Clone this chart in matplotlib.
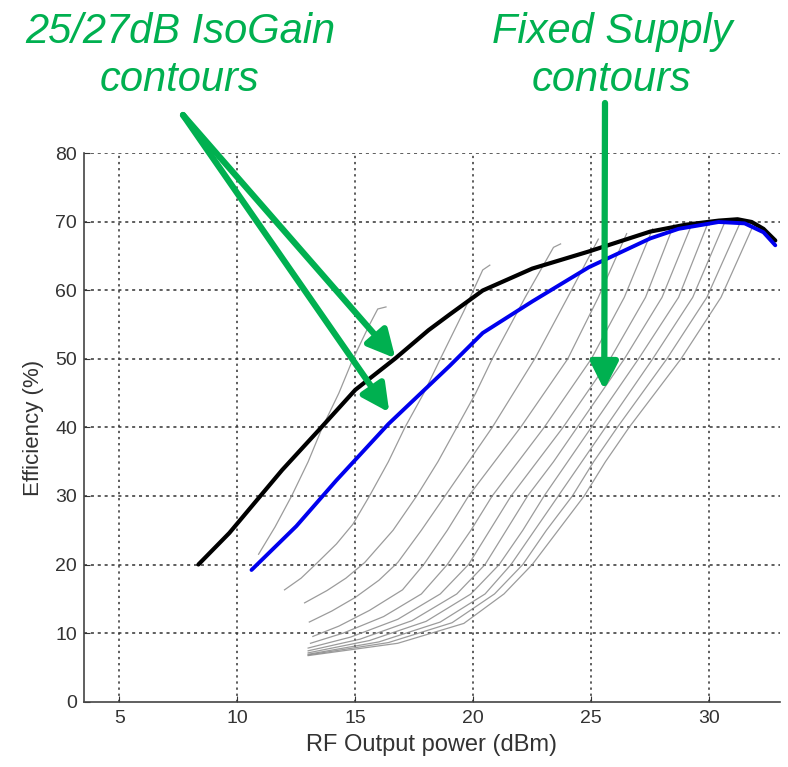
import matplotlib
matplotlib.use('Agg')
import matplotlib.pyplot as plt

plt.rcParams['font.family'] = ['Liberation Sans', 'DejaVu Sans']

# --- data ---
black_x = [8.35, 9.66, 11.9, 13.5, 15.0, 16.7, 18.1, 19.0, 20.4, 22.5, 24.9, 27.5, 29.0, 30.4, 31.2, 31.8, 32.3, 32.8]
black_y = [20.0, 24.6, 33.8, 39.8, 45.5, 50.1, 54.2, 56.5, 60.0, 63.2, 65.7, 68.6, 69.6, 70.2, 70.4, 70.0, 69.0, 67.3]

blue_x = [10.6, 12.5, 14.2, 16.4, 19.0, 20.4, 22.5, 24.9, 27.5, 28.7, 30.4, 31.5, 32.3, 32.8]
blue_y = [19.2, 25.6, 32.3, 40.5, 49.0, 53.8, 58.4, 63.4, 67.6, 69.0, 70.0, 69.8, 68.5, 66.6]

# fixed supply contours (x list, y list), low supply -> high supply
supply_a = ([10.9, 11.6, 12.3, 13.0, 13.6, 14.3, 14.9, 15.6, 15.95, 16.3],
            [21.5, 25.5, 30, 35, 40, 45, 50, 55, 57.3, 57.6])
supply_b = ([12.0, 12.7, 13.4, 14.2, 14.9, 15.6, 16.4, 17.1, 17.9, 18.6, 19.6, 20.4, 20.7],
            [16.3, 18.0, 20.3, 23.0, 25.9, 30, 35, 40, 45, 50, 57, 63.0, 63.7])
supply_c = ([12.85, 13.8, 14.6, 15.4, 16.6, 17.6, 18.5, 19.3, 20.1, 20.8, 22.2, 23.4, 23.7],
            [14.4, 16.2, 18.0, 20.3, 25, 30, 35, 40, 45, 50, 59, 66.3, 66.8])
supply_d = ([13.05, 14.0, 15.0, 16.0, 16.8, 17.8, 18.8, 19.8, 20.8, 22.6, 24.0, 25.3],
            [11.6, 13.2, 15.2, 17.7, 20.3, 25, 30, 35, 40, 50, 59, 67.5])
supply_e = ([13.2, 14.3, 15.6, 17.0, 17.9, 18.9, 19.8, 20.9, 22.0, 24.0, 25.3, 26.5],
            [9.5, 11.0, 13.3, 16.3, 20, 25, 30, 35, 40, 50, 59, 68.3])
supply_f = ([13.1, 14.5, 16.2, 17.8, 18.9, 19.9, 20.8, 21.9, 23.0, 25.0, 26.4, 27.6],
            [8.5, 10.0, 12.4, 15.7, 20, 25, 30, 35, 40, 50, 59, 69.0])
supply_g = ([13.0, 14.8, 16.8, 18.6, 19.8, 20.7, 21.6, 22.7, 23.8, 25.8, 27.3, 28.5],
            [7.8, 9.4, 12.0, 15.7, 20, 25, 30, 35, 40, 50, 59, 69.6])
supply_h = ([13.0, 15.2, 17.4, 19.3, 20.5, 21.4, 22.3, 23.4, 24.4, 26.4, 28.0, 29.3],
            [7.4, 9.1, 11.8, 15.7, 20, 25, 30, 35, 40, 50, 59, 70.0])
supply_i = ([13.0, 15.6, 18.0, 19.9, 21.1, 22.1, 23.0, 24.0, 25.0, 27.0, 28.7, 30.0],
            [7.1, 8.9, 11.7, 15.7, 20, 25, 30, 35, 40, 50, 59, 70.3])
supply_j = ([13.0, 16.0, 18.6, 20.5, 21.6, 22.6, 23.6, 24.6, 25.6, 27.6, 29.3, 30.7],
            [6.9, 8.7, 11.6, 15.7, 20, 25, 30, 35, 40, 50, 59, 70.3])
supply_k = ([13.0, 16.4, 19.1, 20.9, 22.1, 23.1, 24.2, 25.1, 26.1, 28.2, 29.9, 31.3],
            [6.8, 8.6, 11.5, 15.7, 20, 25, 30, 35, 40, 50, 59, 69.8])
supply_l = ([13.0, 16.8, 19.6, 21.3, 22.5, 23.6, 24.7, 25.6, 26.6, 28.8, 30.5, 31.8],
            [6.7, 8.5, 11.4, 15.7, 20, 25, 30, 35, 40, 50, 59, 69.0])
supply_contours = [supply_a, supply_b, supply_c, supply_d, supply_e, supply_f,
                   supply_g, supply_h, supply_i, supply_j, supply_k, supply_l]

x_ticks = [5, 10, 15, 20, 25, 30]
y_ticks = [0, 10, 20, 30, 40, 50, 60, 70, 80]

GREEN = '#00b050'

fig = plt.figure(figsize=(7.88, 7.67), dpi=100, facecolor='white')
ax = fig.add_axes([84/788, 1 - 701.5/767, 696/788, 548/767])

# grid
for xv in x_ticks:
    ax.axvline(xv, color='#333333', lw=1.1, ls=(0, (1.5, 2.5)), zorder=1)
for yv in y_ticks[1:]:
    ax.axhline(yv, color='#333333', lw=1.1, ls=(0, (2, 2.5)), zorder=1)

for cx, cy in supply_contours:
    ax.plot(cx, cy, color='#8a8a8a', lw=0.9, alpha=0.85, zorder=2)

ax.plot(black_x, black_y, color='black', lw=3.0, solid_capstyle='round', zorder=4)
ax.plot(blue_x, blue_y, color='#0000ee', lw=2.8, solid_capstyle='round', zorder=5)

ax.set_xlim(3.5, 33)
ax.set_ylim(0, 80)
ax.set_xticks(x_ticks)
ax.set_yticks(y_ticks)
ax.tick_params(direction='in', length=4, colors='#333333', labelsize=14)
ax.tick_params(axis='x', pad=6)
ax.tick_params(axis='y', pad=5)
for s in ['top', 'right']:
    ax.spines[s].set_visible(False)
for s in ['left', 'bottom']:
    ax.spines[s].set_color('#444444')
    ax.spines[s].set_linewidth(1.2)
ax.set_xlabel('RF Output power (dBm)', fontsize=17, color='#333333', labelpad=5)
ax.set_ylabel('Efficiency (%)', fontsize=16, color='#333333', labelpad=8)

# annotation text
fig.text(180/788, 1 - 32/767, '25/27dB IsoGain', color=GREEN, fontsize=30, style='italic',
         ha='center', va='center')
fig.text(180/788, 1 - 80/767, 'contours', color=GREEN, fontsize=30, style='italic',
         ha='center', va='center')
fig.text(612/788, 1 - 32/767, 'Fixed Supply', color=GREEN, fontsize=30, style='italic',
         ha='center', va='center')
fig.text(612/788, 1 - 80/767, 'contours', color=GREEN, fontsize=30, style='italic',
         ha='center', va='center')

arrow_style = dict(arrowstyle='-|>,head_length=0.75,head_width=0.38', lw=4.5, color=GREEN,
                   shrinkA=0, shrinkB=0, mutation_scale=22)
ax.annotate('', xy=(16.7, 50.1), xycoords='data', xytext=(183/788, 1 - 115/767),
            textcoords='figure fraction', arrowprops=arrow_style, zorder=6)
ax.annotate('', xy=(16.44, 42.2), xycoords='data', xytext=(183/788, 1 - 115/767),
            textcoords='figure fraction', arrowprops=arrow_style, zorder=6)
ax.annotate('', xy=(25.55, 45.5), xycoords='data', xytext=(605/788, 1 - 103/767),
            textcoords='figure fraction', arrowprops=arrow_style, zorder=6)

fig.savefig('out.png', dpi=100, facecolor='white')
